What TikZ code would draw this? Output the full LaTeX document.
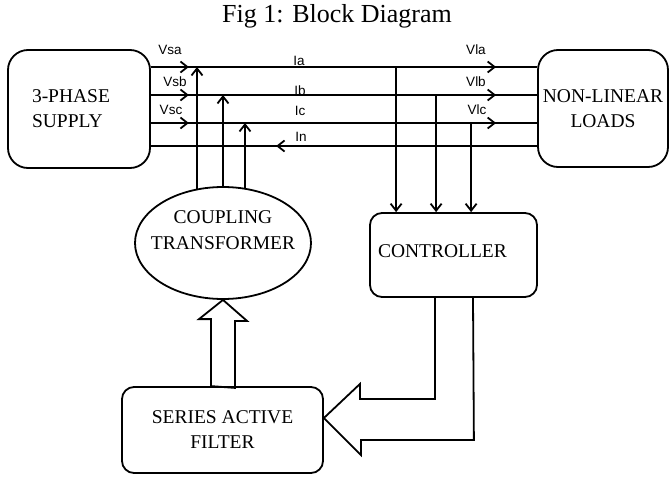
\documentclass[tikz,border=0pt]{standalone}
\usepackage{fontspec}
\setmainfont{Liberation Serif}
\newfontfamily\lblfont{Liberation Sans}
\usetikzlibrary{arrows.meta,shapes.geometric}
\tikzset{
  blk/.style={draw, line width=1.8pt, inner sep=0pt, font=\fontsize{19.5}{25}\selectfont},
  wire/.style={line width=1.8pt},
  arr/.style={line width=1.8pt, -{Straight Barb[length=7pt,width=11pt]}},
  hollow/.style={line width=1.8pt, line join=miter},
  lbl/.style={font=\lblfont\fontsize{13.5}{15}\selectfont, inner sep=0pt},
}
\begin{document}
\begin{tikzpicture}[x=1pt,y=-1pt]
  \useasboundingbox (0,0) rectangle (670,477);
  \node[font=\fontsize{26}{30}\selectfont] (title) at (337,16) {Fig 1: Block Diagram};
  \node[blk, rounded corners=20pt, minimum width=142pt, minimum height=118pt,
        text width=94pt, align=left] (supply) at (79,109) {3-PHASE\\SUPPLY};
  \node[blk, rounded corners=20pt, minimum width=130pt, minimum height=117pt,
        align=center] (loads) at (603,108.5) {NON-LINEAR\\LOADS};
  \node[blk, ellipse, minimum width=176pt, minimum height=112pt] (coupling) at (223,243) {};
  \node[font=\fontsize{19.5}{26}\selectfont, align=center] (ctext) at (223,230) {COUPLING\\TRANSFORMER};
  \node[blk, rounded corners=12pt, minimum width=167pt, minimum height=84pt,
        text width=151pt, align=left, text depth=8pt] (ctrl) at (453.5,255) {CONTROLLER};
  \node[blk, rounded corners=12pt, minimum width=201pt, minimum height=86pt,
        align=center] (filter) at (222.5,430) {SERIES ACTIVE\\FILTER};

  \coordinate (busa) at (0,67); \coordinate (busb) at (0,95);
  \coordinate (busc) at (0,123); \coordinate (busn) at (0,146);
  \foreach \b in {busa,busb,busc,busn}
    \draw[wire] (supply.east |- \b) -- (loads.west |- \b);
  \foreach \b in {busa,busb,busc} {
    \draw[arr] ([xshift=10pt]supply.east |- \b) -- ([xshift=38pt]supply.east |- \b);
    \draw[arr] ([xshift=-98pt]loads.west |- \b) -- ([xshift=-41pt]loads.west |- \b);
  }
  \draw[arr] ([xshift=-215pt]loads.west |- busn) -- ([xshift=-261pt]loads.west |- busn);
  \foreach \x/\d/\b in {-26/-2.5/busa,0/0/busb,22/-1.8/busc}
    \draw[arr] ([xshift=\x pt,yshift=\d pt]coupling.north) -- ([xshift=\x pt]coupling.north |- \b);
  \foreach \x/\b in {27/busa,67/busb,102/busc}
    \draw[arr] ([xshift=\x pt]ctrl.north west |- \b) -- ([xshift=\x pt]ctrl.north west);

  \draw[hollow] ([xshift=-11.5pt]filter.north) -- ++(0,-67) -- ++(-12,0) -- (coupling.south)
    -- ++(24,21) -- ++(-12,0) -- ++(0,67) -- cycle;
  \draw[hollow] ([xshift=-18.5pt]ctrl.south) -- ++(0,101) -- ++(-75,0) -- ++(0,-15)
    -- ([yshift=12pt]filter.east) -- ++(37,37) -- ++(0,-15) -- ++(113,0)
    -- ([xshift=19.5pt]ctrl.south);

  \node[lbl] (vsa) at (170,50) {Vsa};
  \node[lbl] (vsb) at (175,82) {Vsb};
  \node[lbl] (vsc) at (171,110) {Vsc};
  \node[lbl] (ia) at (299,61) {Ia};
  \node[lbl] (ib) at (300,91) {Ib};
  \node[lbl] (ic) at (300,111) {Ic};
  \node[lbl] (in) at (301,137) {In};
  \node[lbl] (vla) at (476,50) {Vla};
  \node[lbl] (vlb) at (476,82) {Vlb};
  \node[lbl] (vlc) at (477,110) {Vlc};
\end{tikzpicture}
\end{document}
